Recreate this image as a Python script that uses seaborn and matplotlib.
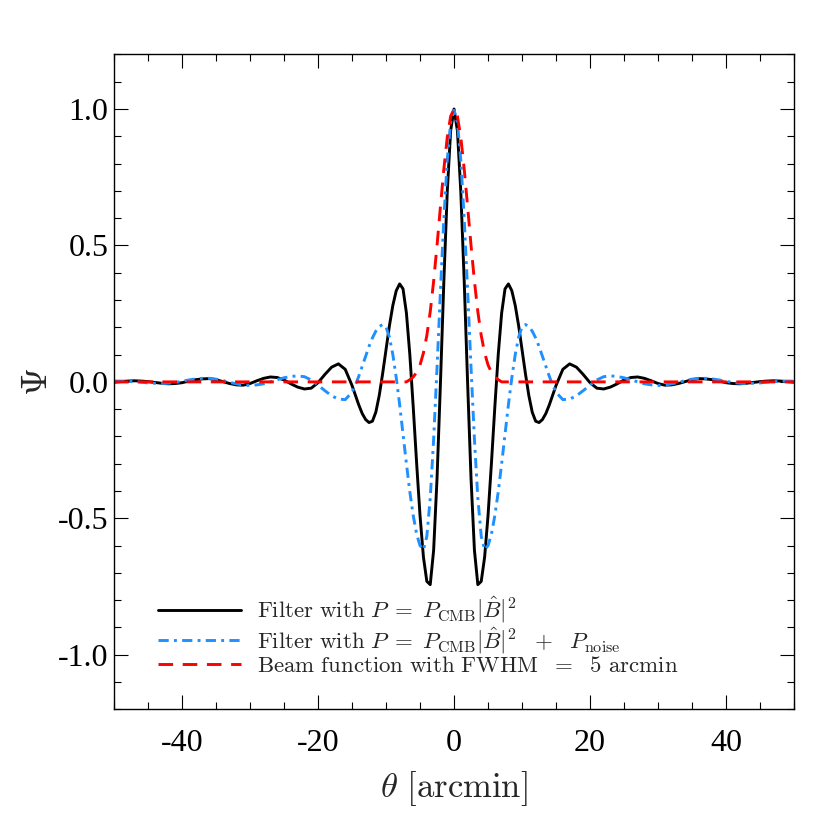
import numpy as np
import pandas as pd
import matplotlib
matplotlib.use("Agg")
import matplotlib.pyplot as plt
import seaborn as sns
from matplotlib.ticker import MultipleLocator

# ---------------- data ----------------
theta = [-50, -49, -48, -47, -46, -45, -44, -43, -42, -41, -40, -39, -38, -37, -36, -35,
         -34, -33, -32, -31, -30, -29, -28, -27, -26, -25, -24, -23, -22, -21, -20, -19,
         -18, -17, -16,
         -15, -14.5, -14, -13.5, -13, -12.5, -12, -11.5, -11, -10.5, -10, -9.5, -9, -8.5,
         -8, -7.5, -7, -6.5, -6, -5.5, -5, -4.5, -4, -3.5, -3, -2.5, -2, -1.5, -1, -0.5,
         0,
         0.5, 1, 1.5, 2, 2.5, 3, 3.5, 4, 4.5, 5, 5.5, 6, 6.5, 7, 7.5, 8, 8.5, 9, 9.5,
         10, 10.5, 11, 11.5, 12, 12.5, 13, 13.5, 14, 14.5, 15,
         16, 17, 18, 19, 20, 21, 22, 23, 24, 25, 26, 27, 28, 29, 30, 31, 32, 33, 34, 35,
         36, 37, 38, 39, 40, 41, 42, 43, 44, 45, 46, 47, 48, 49, 50]

psi_cmb = [-0.001, 0.001, 0.003, 0.004, 0.003, 0.001, -0.002, -0.005, -0.007, -0.006,
           -0.003, 0.003, 0.008, 0.011, 0.012, 0.008, 0.001, -0.006, -0.011, -0.012,
           -0.006, 0.004, 0.013, 0.018, 0.016, 0.007, -0.007, -0.019, -0.026, -0.023,
           -0.003, 0.027, 0.054, 0.066, 0.046,
           -0.013, -0.049, -0.085, -0.116, -0.138, -0.149, -0.144, -0.111, -0.050, 0.030,
           0.119, 0.206, 0.280, 0.334, 0.359, 0.341, 0.252, 0.100, -0.092, -0.298,
           -0.490, -0.642, -0.731, -0.743, -0.617, -0.354, -0.006, 0.367, 0.695, 0.920,
           1.000,
           0.920, 0.695, 0.367, -0.006, -0.354, -0.617, -0.743, -0.731, -0.642, -0.490,
           -0.298, -0.092, 0.100, 0.252, 0.341, 0.359, 0.334, 0.280, 0.206, 0.119,
           0.030, -0.050, -0.111, -0.144, -0.149, -0.138, -0.116, -0.085, -0.049, -0.013,
           0.046, 0.066, 0.054, 0.027, -0.003, -0.023, -0.026, -0.019, -0.007, 0.007,
           0.016, 0.018, 0.013, 0.004, -0.006, -0.012, -0.011, -0.006, 0.001, 0.008,
           0.012, 0.011, 0.008, 0.003, -0.003, -0.006, -0.007, -0.005, -0.002, 0.001,
           0.003, 0.004, 0.003, 0.001, -0.001]

psi_noise = [0.003, 0.003, 0.002, 0.001, -0.001, -0.004, -0.005, -0.006, -0.005, -0.002,
             0.002, 0.007, 0.011, 0.013, 0.013, 0.010, 0.005, -0.002, -0.007, -0.012,
             -0.013, -0.011, -0.007, 0.000, 0.008, 0.015, 0.020, 0.022, 0.019, 0.007,
             -0.012, -0.032, -0.051, -0.063, -0.065,
             -0.038, -0.011, 0.021, 0.057, 0.094, 0.130, 0.161, 0.186, 0.203, 0.210,
             0.201, 0.164, 0.100, 0.016, -0.083, -0.192, -0.300, -0.403, -0.490, -0.558,
             -0.600, -0.615, -0.566, -0.426, -0.211, 0.052, 0.333, 0.596, 0.811, 0.951,
             0.995,
             0.951, 0.811, 0.596, 0.333, 0.052, -0.211, -0.426, -0.566, -0.615, -0.600,
             -0.558, -0.490, -0.403, -0.300, -0.192, -0.083, 0.016, 0.100, 0.164, 0.201,
             0.210, 0.203, 0.186, 0.161, 0.130, 0.094, 0.057, 0.021, -0.011, -0.038,
             -0.065, -0.063, -0.051, -0.032, -0.012, 0.007, 0.019, 0.022, 0.020, 0.015,
             0.008, 0.000, -0.007, -0.011, -0.013, -0.012, -0.007, -0.002, 0.005, 0.010,
             0.013, 0.013, 0.011, 0.007, 0.002, -0.002, -0.005, -0.006, -0.005, -0.004,
             -0.001, 0.001, 0.002, 0.003, 0.003]

beam = [0.0, 0.0, 0.0, 0.0, 0.0, 0.0, 0.0, 0.0, 0.0, 0.0,
        0.0, 0.0, 0.0, 0.0, 0.0, 0.0, 0.0, 0.0, 0.0, 0.0,
        0.0, 0.0, 0.0, 0.0, 0.0, 0.0, 0.0, 0.0, 0.0, 0.0,
        0.0, 0.0, 0.0, 0.0, 0.0,
        0.0, 0.0, 0.0, 0.0, 0.0, 0.0, 0.0, 0.0, 0.0, 0.0,
        0.0, 0.0, 0.0, 0.0, 0.0, 0.0, 0.0, 0.008, 0.018, 0.035,
        0.062, 0.106, 0.170, 0.257, 0.369, 0.500, 0.642, 0.779, 0.895, 0.973,
        1.000,
        0.973, 0.895, 0.779, 0.642, 0.500, 0.369, 0.257, 0.170, 0.106, 0.062,
        0.035, 0.018, 0.008, 0.0, 0.0, 0.0, 0.0, 0.0, 0.0, 0.0,
        0.0, 0.0, 0.0, 0.0, 0.0, 0.0, 0.0, 0.0, 0.0, 0.0,
        0.0, 0.0, 0.0, 0.0, 0.0, 0.0, 0.0, 0.0, 0.0, 0.0,
        0.0, 0.0, 0.0, 0.0, 0.0, 0.0, 0.0, 0.0, 0.0, 0.0,
        0.0, 0.0, 0.0, 0.0, 0.0, 0.0, 0.0, 0.0, 0.0, 0.0,
        0.0, 0.0, 0.0, 0.0, 0.0]

labels = [r"$\mathrm{Filter\ with}\ P\;=\;P_{\mathrm{CMB}}|\hat{B}|^2$",
          r"$\mathrm{Filter\ with}\ P\;=\;P_{\mathrm{CMB}}|\hat{B}|^2\ \ +\ \ P_{\mathrm{noise}}$",
          r"$\mathrm{Beam\ function\ with\ FWHM}\ \ =\ \ \mathrm{5\ arcmin}$"]
series = [psi_cmb, psi_noise, beam]
colors = ["black", "#1E90FF", "#FF0000"]
dash_styles = [None, (3.5, 1.8, 1.0, 1.8), (5.0, 3.3)]

xticks = [-40, -20, 0, 20, 40]
yticks = [-1.0, -0.5, 0.0, 0.5, 1.0]
ytick_labels = ["-1.0", "-0.5", "0.0", "0.5", "1.0"]
xtick_labels = ["-40", "-20", "0", "20", "40"]

# ---------------- plot ----------------
sns.set_theme(style="ticks")
plt.rcParams["mathtext.fontset"] = "cm"
plt.rcParams["axes.unicode_minus"] = False
plt.rcParams["font.family"] = ["Liberation Serif", "DejaVu Serif"]

fig = plt.figure(figsize=(8.22, 8.31), dpi=100)
ax = fig.add_axes([0.1387, 0.1464, 0.8273, 0.7881])

for y, lab, col, ds in zip(series, labels, colors, dash_styles):
    df = pd.DataFrame({"theta": theta, "psi": y})
    sns.lineplot(data=df, x="theta", y="psi", ax=ax, color=col, lw=2.1,
                 label=lab, estimator=None, sort=False)
    if ds is not None:
        ax.lines[-1].set_dashes(ds)

ax.set_xlim(-50, 50)
ax.set_ylim(-1.2, 1.2)
ax.set_xticks(xticks)
ax.set_xticklabels(xtick_labels)
ax.set_yticks(yticks)
ax.set_yticklabels(ytick_labels)
ax.xaxis.set_minor_locator(MultipleLocator(5))
ax.yaxis.set_minor_locator(MultipleLocator(0.1))
ax.tick_params(which="both", direction="in", top=True, right=True, width=0.8,
               colors="black", labelsize=23)
ax.tick_params(which="major", length=10)
ax.tick_params(which="minor", length=4.7)
ax.tick_params(axis="x", which="major", pad=14)
ax.tick_params(axis="y", which="major", pad=4)
for s in ax.spines.values():
    s.set_linewidth(1.0)
    s.set_color("black")

ax.set_xlabel(r"$\theta\ [\mathrm{arcmin}]$", fontsize=25, labelpad=8)
ax.set_ylabel(r"$\Psi$", fontsize=26, labelpad=2, rotation=90)

leg = ax.legend(loc="lower left", bbox_to_anchor=(0.065, 0.05), frameon=False,
                fontsize=16.5, handlelength=3.6, handletextpad=0.7, labelspacing=0.0,
                borderpad=0, borderaxespad=0)

fig.savefig("out.png", dpi=100, facecolor="white")
